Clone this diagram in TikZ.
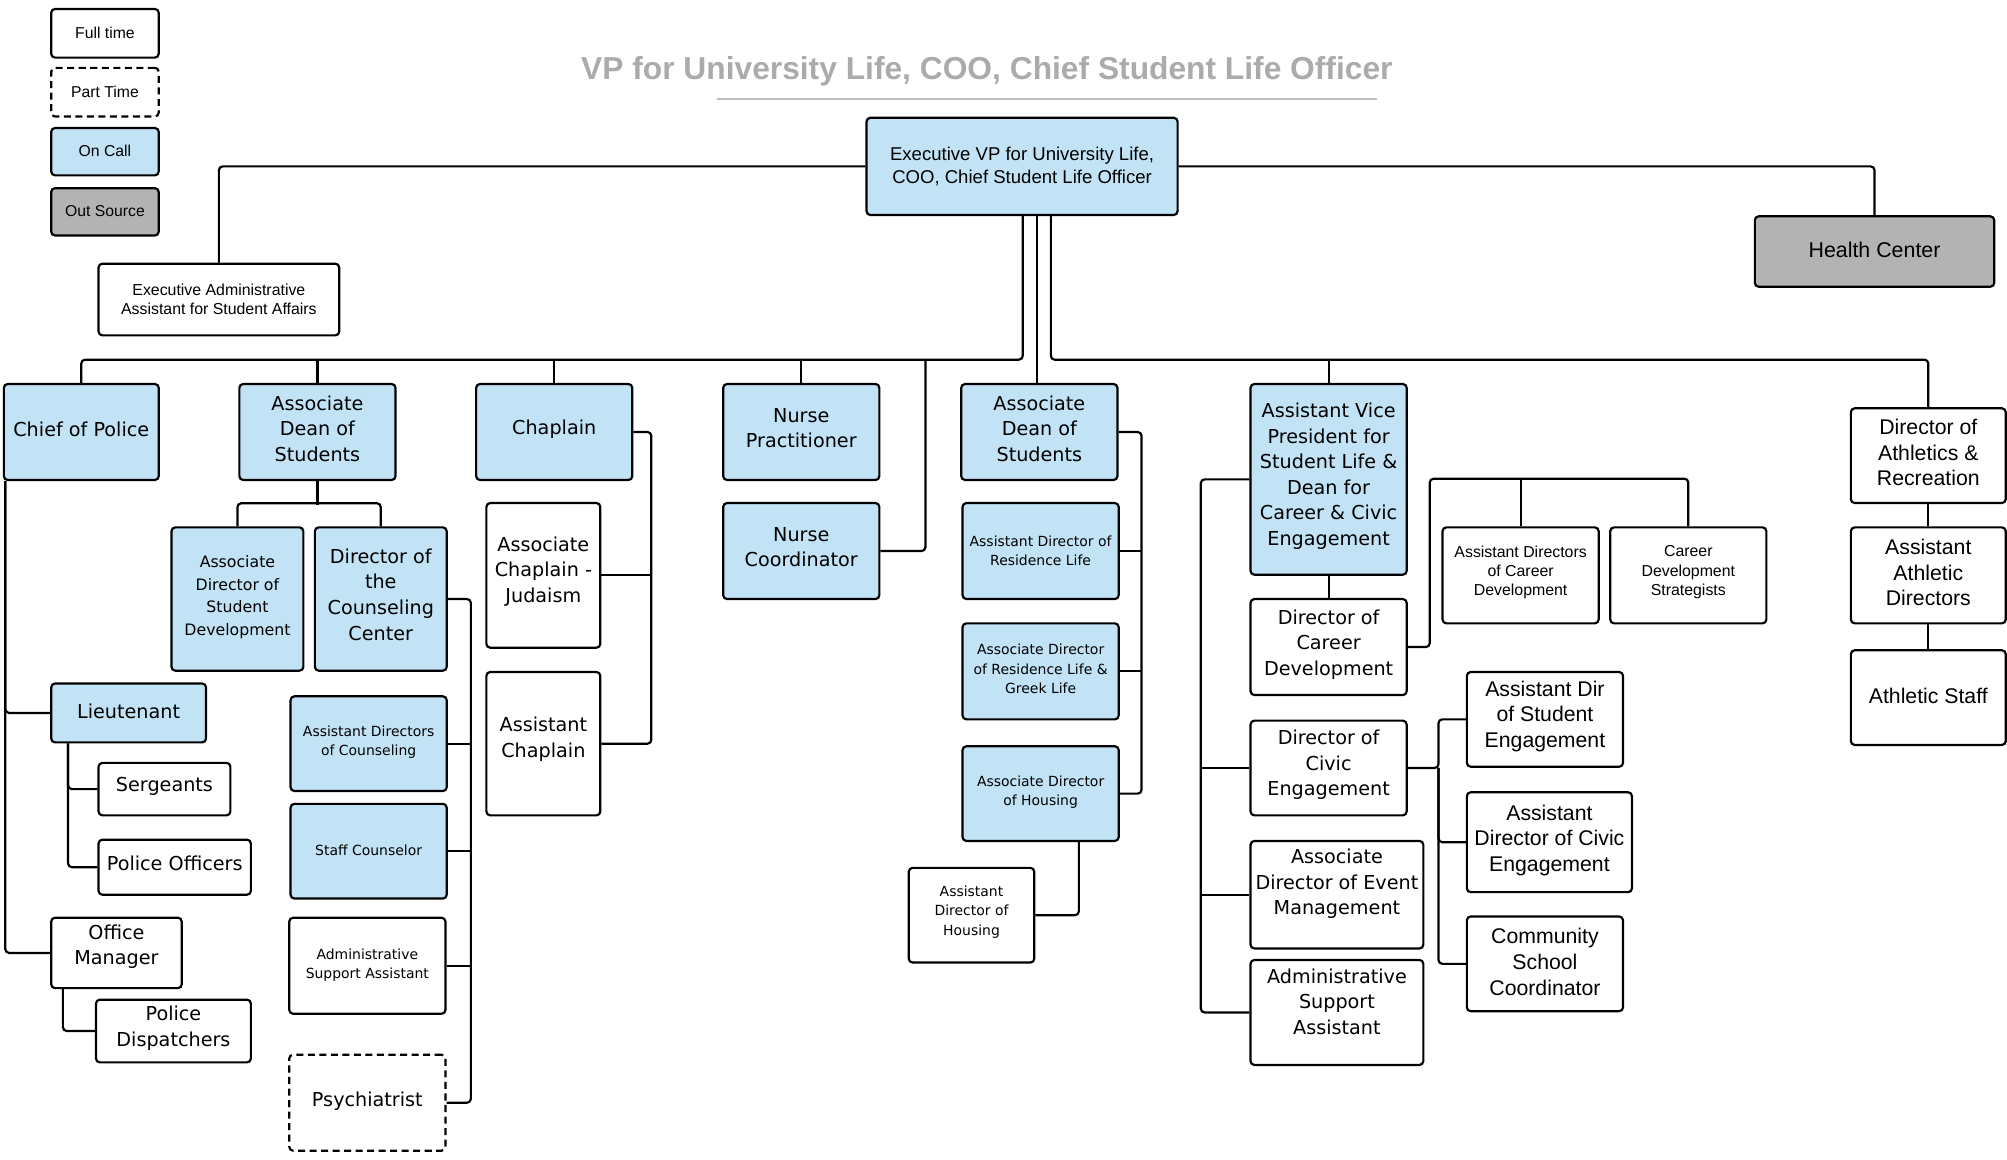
\documentclass[tikz,border=0pt]{standalone}
\usepackage{fontspec}
\setmainfont{Liberation Sans}
\newfontfamily\dejafam{DejaVu Sans}
\usetikzlibrary{calc}
\definecolor{oncallblue}{HTML}{C2E3F5}
\definecolor{outgray}{HTML}{B3B3B3}
\definecolor{titlegray}{HTML}{ABABAB}
\definecolor{rulegray}{HTML}{BDBDBD}
% style, name, x1, y1, x2, y2, text, text vertical offset
\newcommand\orgbox[8]{%
  \node[#1, minimum width={(#5-#3)*1pt}, minimum height={(#6-#4)*1pt}] (#2) at ({(#3+#5)/2},{(#4+#6)/2}) {};
  \node[#1, draw=none, fill=none, minimum width=0pt, minimum height=0pt, inner sep=0pt] (#2-t) at ($(#2.center)+(0,#8)$) {#7};}
\tikzset{
  box/.style={draw=black, line width=1.7pt, rounded corners=3pt, align=center, inner sep=1pt},
  fullt/.style={box, fill=white},
  partt/.style={box, fill=white, dash pattern=on 5.5pt off 3.5pt},
  oncall/.style={box, fill=oncallblue},
  outs/.style={box, fill=outgray},
  conn/.style={draw=black, line width=1.7pt, rounded corners=3pt},
  Lb/.style={font=\dejafam\fontsize{15}{20}\selectfont},
  Lm/.style={font=\dejafam\fontsize{12.3}{17.5}\selectfont},
  Ls/.style={font=\dejafam\fontsize{10.9}{15}\selectfont},
  Ab/.style={font=\fontsize{16.6}{20}\selectfont},
  As/.style={font=\fontsize{12.4}{15}\selectfont},
  Ae/.style={font=\fontsize{14.5}{18}\selectfont},
  Ah/.style={font=\fontsize{16.7}{20}\selectfont},
  Al/.style={font=\fontsize{12.3}{15}\selectfont},
  titletext/.style={font=\bfseries\fontsize{24.8}{28}\selectfont, text=titlegray},
}
\begin{document}
\begin{tikzpicture}[x=1pt,y=-1pt]
\useasboundingbox (0,0) rectangle (1568,905.5);
% legend
\orgbox{fullt,Al}{lgfull}{40}{7}{124}{45}{Full time}{0}
\orgbox{partt,Al}{lgpart}{40}{53}{124}{91}{Part Time}{0}
\orgbox{oncall,Al}{lgcall}{40}{100}{124}{137}{On Call}{-0.5}
\orgbox{outs,Al}{lgout}{40}{147}{124}{184}{Out Source}{-0.5}
% title
\node[titletext] (title) at (771,55.5) {VP for University Life, COO, Chief Student Life Officer};
\draw[rulegray, line width=1.6pt] (560,77) -- (1076,77);
% top level
\orgbox{oncall,Ae}{evp}{677}{92}{920}{168}{Executive VP for University Life,\\COO, Chief Student Life Officer}{0}
\orgbox{fullt,As}{eaa}{77}{206}{265}{262}{Executive Administrative\\Assistant for Student Affairs}{0}
\orgbox{outs,Ah}{hc}{1371}{169}{1558}{224}{Health Center}{-1.5}
% second row
\orgbox{oncall,Lb}{cop}{3}{300}{124}{375}{Chief of Police}{-2}
\orgbox{oncall,Lb}{adsa}{187}{300}{309}{375}{Associate\\Dean of\\Students}{-2.5}
\orgbox{oncall,Lb}{chap}{372}{300}{494}{375}{Chaplain}{-2}
\orgbox{oncall,Lb}{np}{565}{300}{687}{375}{Nurse\\Practitioner}{-3}
\orgbox{oncall,Lb}{adsb}{751}{300}{873}{375}{Associate\\Dean of\\Students}{-2.5}
\orgbox{oncall,Lb}{avp}{977}{300}{1099}{449}{Assistant Vice\\President for\\Student Life \&\\Dean for\\Career \& Civic\\Engagement}{-2.5}
\orgbox{fullt,Ab}{dar}{1446}{319}{1567}{393}{Director of\\Athletics \&\\Recreation}{-2.5}
% police
\orgbox{oncall,Lb}{lt}{40}{534}{161}{580}{Lieutenant}{-1}
\orgbox{fullt,Lb}{sg}{77}{596}{180}{637}{Sergeants}{-2}
\orgbox{fullt,Lb}{po}{77}{656}{196}{699}{Police Officers}{-3}
\orgbox{fullt,Lb}{om}{40}{717}{142}{772}{Office\\Manager}{-5}
\orgbox{fullt,Lb}{pd}{75}{781}{196}{830}{Police\\Dispatchers}{-2}
% dean of students 1
\orgbox{oncall,Lm}{adsd}{134}{412}{237}{524}{Associate\\Director of\\Student\\Development}{-1.5}
\orgbox{oncall,Lb}{dcc}{246}{412}{349}{524}{Director of\\the\\Counseling\\Center}{-3.5}
\orgbox{oncall,Ls}{adc}{227}{544}{349}{618}{Assistant Directors\\of Counseling}{-1}
\orgbox{oncall,Ls}{sc}{227}{628}{349}{702}{Staff Counselor}{-0.5}
\orgbox{fullt,Ls}{asaa}{226}{717}{348}{792}{Administrative\\Support Assistant}{-0.5}
\orgbox{partt,Lb}{psy}{226}{824}{348}{899}{Psychiatrist}{-1}
% chaplain
\orgbox{fullt,Lb}{acj}{380}{393}{469}{506}{Associate\\Chaplain -\\Judaism}{-3}
\orgbox{fullt,Lb}{achp}{380}{525}{469}{637}{Assistant\\Chaplain}{-3.5}
% nurse
\orgbox{oncall,Lb}{nc}{565}{393}{687}{468}{Nurse\\Coordinator}{-3}
% dean of students 2
\orgbox{oncall,Ls}{adrl}{752}{393}{874}{468}{Assistant Director of\\Residence Life}{-0.5}
\orgbox{oncall,Ls}{adgl}{752}{487}{874}{562}{Associate Director\\of Residence Life \&\\Greek Life}{-2}
\orgbox{oncall,Ls}{adh}{752}{583}{874}{657}{Associate Director\\of Housing}{-1}
\orgbox{fullt,Ls}{asdh}{710}{678}{808}{752}{Assistant\\Director of\\Housing}{-2.5}
% assistant VP
\orgbox{fullt,Lb}{dcd}{977}{468}{1099}{543}{Director of\\Career\\Development}{-2}
\orgbox{fullt,As}{adcd}{1127}{412}{1249}{487}{Assistant Directors\\of Career\\Development}{-2.5}
\orgbox{fullt,As}{cds}{1258}{412}{1380}{487}{Career\\Development\\Strategists}{-2.5}
\orgbox{fullt,Lb}{dce}{977}{563}{1099}{637}{Director of\\Civic\\Engagement}{-2.5}
\orgbox{fullt,Ab}{adse}{1146}{525}{1268}{599}{Assistant Dir\\of Student\\Engagement}{-2.5}
\orgbox{fullt,Ab}{adce}{1146}{619}{1275}{697}{Assistant\\Director of Civic\\Engagement}{-1.5}
\orgbox{fullt,Ab}{csc}{1146}{716}{1268}{790}{Community\\School\\Coordinator}{-1.5}
\orgbox{fullt,Lb}{adem}{977}{657}{1112}{741}{Associate\\Director of Event\\Management}{-8.5}
\orgbox{fullt,Lb}{asab}{977}{750}{1112}{832}{Administrative\\Support\\Assistant}{-8.5}
% athletics
\orgbox{fullt,Ab}{aad}{1446}{412}{1567}{487}{Assistant\\Athletic\\Directors}{-2}
\orgbox{fullt,Ab}{ast}{1446}{508}{1567}{582}{Athletic Staff}{-1.5}

% ---------- connectors ----------
\draw[conn] (evp.west) -| (eaa.north);
\draw[conn] (evp.east) -| (hc.north);
% left bus
\coordinate (lbus) at (799,281);
\draw[conn] (evp.south -| lbus) -- (lbus) -| (cop.north);
\draw[conn] (adsa.north) -- (adsa.north |- lbus);
\draw[conn] (chap.north) -- (chap.north |- lbus);
\draw[conn] (np.north) -- (np.north |- lbus);
\coordinate (ncv) at (723,281);
\draw[conn] (nc.east) -| (ncv);
% middle
\coordinate (mid) at (810,300);
\draw[conn] (evp.south -| mid) -- (mid);
% right bus
\coordinate (rbus) at (821,281);
\draw[conn] (evp.south -| rbus) -- (rbus) -| (dar.north);
\draw[conn] (avp.north) -- (avp.north |- rbus);
% police
\coordinate (copl) at ([xshift=2pt]cop.south west);
\draw[conn] (copl) |- (om.west);
\draw[conn] (copl) |- (lt.west);
\coordinate (ltl) at ([xshift=14pt]lt.south west);
\draw[conn] (ltl) |- (po.west);
\draw[conn] (ltl) |- (sg.west);
\coordinate (oml) at ([xshift=10pt]om.south west);
\draw[conn] (oml) |- (pd.west);
% dean 1
\draw[conn] (adsa.south) -- ++(0,19);
\draw[conn] (adsd.north) -- ++(0,-18) -| (dcc.north);
\coordinate (cv) at ($(dcc.east)+(18,0)$);
\draw[conn] (dcc.east) -- (cv) |- (psy.east);
\draw[conn] (adc.east) -- (adc.east -| cv);
\draw[conn] (sc.east) -- (sc.east -| cv);
\draw[conn] (asaa.east) -- (asaa.east -| cv);
% chaplain
\coordinate (chv) at ($(chap.east)+(14,0)$);
\draw[conn] (chap.east) -- (chv) |- (achp.east);
\draw[conn] (acj.east) -- (acj.east -| chv);
% dean 2
\coordinate (dv) at ($(adsb.east)+(18,0)$);
\draw[conn] (adsb.east) -- (dv) |- (adh.east);
\draw[conn] (adrl.east) -- (adrl.east -| dv);
\draw[conn] (adgl.east) -- (adgl.east -| dv);
\coordinate (hv) at ([xshift=-32pt]adh.south east);
\draw[conn] (hv) |- (asdh.east);
% assistant VP
\coordinate (avl) at ($(avp.west)+(-38,0)$);
\draw[conn] (avp.west) -- (avl) |- (asab.west);
\draw[conn] (dce.west) -- (dce.west -| avl);
\draw[conn] (adem.west) -- (adem.west -| avl);
\draw[conn] (avp.south) -- (dcd.north);
\coordinate (cb) at (1117,374);
\draw[conn] (dcd.east) -| (cb) -| (cds.north);
\draw[conn] (adcd.north) -- (adcd.north |- cb);
\coordinate (ce) at ($(dce.east)+(24,0)$);
\draw[conn] (dce.east) -- (ce) |- (adse.west);
\draw[conn] (ce) |- (adce.west);
\draw[conn] (ce) |- (csc.west);
% athletics
\draw[conn] (dar.south) -- (aad.north);
\draw[conn] (aad.south) -- (ast.north);
\end{tikzpicture}
\end{document}
